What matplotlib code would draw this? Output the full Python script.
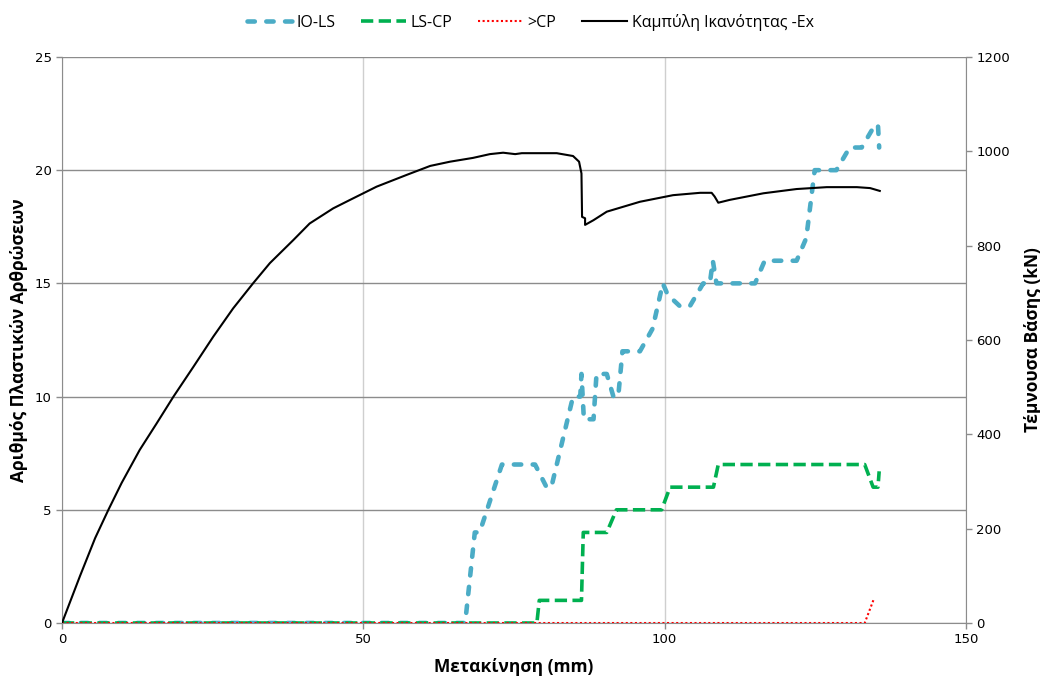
import matplotlib
matplotlib.use('Agg')
import matplotlib.pyplot as plt
from matplotlib.lines import Line2D

plt.rcParams['font.family'] = ['Open Sans', 'DejaVu Sans']

# Αριθμός πλαστικών αρθρώσεων ανά στάθμη επιτελεστικότητας
io_x = [0, 66.9, 68.5, 69.3, 73.0, 78.5, 80.4, 81.2, 84.8, 86.0, 86.2, 86.6, 88.2, 88.7,
        90.4, 91.5, 92.3, 93.0, 94.5, 95.9, 98.0, 99.7, 100.5, 102.5, 104.2, 106.4, 107.5,
        108.0, 108.6, 109.7, 115.0, 116.6, 121.9, 123.5, 124.9, 128.5, 130.7, 132.7, 134.9,
        135.4, 135.6]
io_y = [0, 0, 4, 4, 7, 7, 6, 6, 10, 10, 11, 9, 9, 11,
        11, 10, 10, 12, 12, 12, 13, 15, 14.5, 14, 14, 15, 15,
        16, 15, 15, 15, 16, 16, 17, 20, 20, 21, 21, 22,
        22, 21]

ls_x = [0, 78.8, 79.2, 86.2, 86.5, 90.4, 92.0, 99.5, 100.9, 108.1, 108.9, 133.2, 134.6, 135.4, 135.6]
ls_y = [0, 0, 1, 1, 4, 4, 5, 5, 6, 6, 7, 7, 6, 6, 6.7]

cp_x = [0, 133.2, 134.7]
cp_y = [0, 0, 1.05]

# Καμπύλη ικανότητας (kN)
cap_x = [0, 3.0, 5.5, 7.7, 9.9, 12.9, 15.7, 18.5, 21.8, 25.1, 28.4, 31.7, 34.5, 38.4, 41.1,
         45.0, 47.8, 50.0, 52.2, 54.4, 57.2, 61.1, 64.4, 68.2, 71.0, 73.2, 75.2, 76.3,
         82.1, 84.8, 85.8, 86.2, 86.3, 86.8, 86.8, 88.2, 90.4, 95.9, 101.4, 105.9, 107.8,
         108.3, 108.9, 110.8, 113.6, 116.4, 121.9, 126.9, 131.9, 134.1, 135.7]
cap_y = [0, 100, 180, 240, 297, 367, 423, 480, 543, 607, 667, 720, 763, 812, 847,
         879, 897, 911, 925, 936, 950, 969, 978, 986, 994, 997, 994, 996,
         996, 990, 978, 953, 861, 858, 844, 854, 872, 893, 907, 912, 912,
         904, 891, 897, 904, 911, 920, 924, 924, 922, 916]

fig = plt.figure(figsize=(10.4, 6.78), dpi=100)
ax = fig.add_axes([0.0596, 0.0811, 0.8692, 0.8349])
ax2 = ax.twinx()

io_style = dict(color='#4bacc6', lw=3.3, linestyle=(0, (1.6, 2.5)), dash_capstyle='round')
ls_style = dict(color='#00b050', lw=2.6, linestyle=(0, (3.4, 1.5)))
cp_style = dict(color='red', lw=1.5, linestyle=(0, (1, 1.2)))
cap_style = dict(color='black', lw=1.5)

ax.plot(io_x, io_y, zorder=3, **io_style)
ax.plot(ls_x, ls_y, zorder=4, **ls_style)
ax.plot(cp_x, cp_y, zorder=5, **cp_style)
ax2.plot(cap_x, cap_y, zorder=6, **cap_style)

ax.set_xlim(0, 150)
ax.set_ylim(0, 25)
ax2.set_ylim(0, 1200)
ax.set_xticks([0, 50, 100, 150])
ax.set_yticks([0, 5, 10, 15, 20, 25])
ax2.set_yticks([0, 200, 400, 600, 800, 1000, 1200])

ax.yaxis.grid(True, color='#8c8c8c', lw=1)
ax.xaxis.grid(True, color='#cfcfcf', lw=1)
ax.set_axisbelow(True)

for a in (ax, ax2):
    for s in a.spines.values():
        s.set_visible(False)
    a.tick_params(colors='#8c8c8c', labelcolor='black', length=4, width=1,
                  labelsize=9.5)
    for lab in a.get_xticklabels() + a.get_yticklabels():
        lab.set_family('DejaVu Sans')
ax.spines['left'].set_visible(True)
ax.spines['left'].set_color('#8c8c8c')
ax.spines['bottom'].set_visible(True)
ax.spines['bottom'].set_color('#8c8c8c')
ax2.spines['right'].set_visible(True)
ax2.spines['right'].set_color('#8c8c8c')

ax.set_xlabel('Μετακίνηση (mm)', fontsize=12.5, fontweight='bold', labelpad=8)
ax.set_ylabel('Αριθμός Πλαστικών Αρθρώσεων', fontsize=12.5, fontweight='bold', labelpad=5)
ax2.set_ylabel('Τέμνουσα Βάσης (kN)', fontsize=12.5, fontweight='bold', labelpad=10)

handles = [Line2D([], [], **io_style), Line2D([], [], **ls_style),
           Line2D([], [], **cp_style), Line2D([], [], **cap_style)]
labels = ['IO-LS', 'LS-CP', '>CP', 'Καμπύλη Ικανότητας -Ex']
fig.legend(handles, labels, loc='center', bbox_to_anchor=(0.51, 0.967), ncol=4,
           frameon=False, fontsize=11.5, handlelength=2.8, handletextpad=0.3,
           columnspacing=1.6)

fig.savefig('out.png', dpi=100)
